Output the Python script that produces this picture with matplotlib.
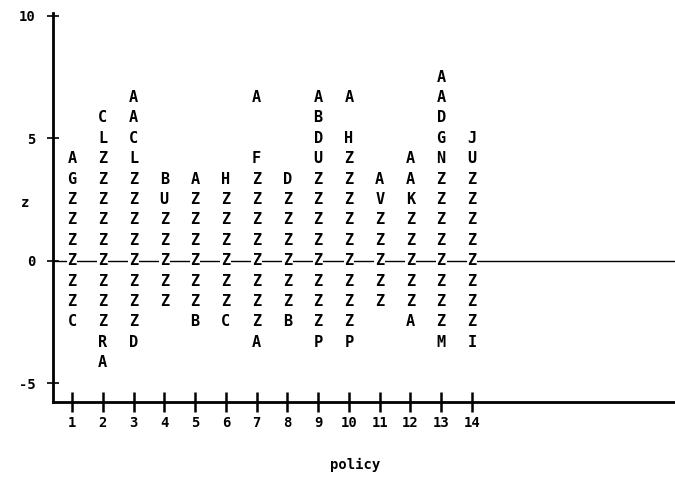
import numpy as np
import matplotlib.pyplot as plt

# policy number, highest z-row of each stack, and the stacked plot symbols
# (top to bottom, a space means an empty row)
policy = list(range(1, 15))
top_row = [5, 7, 8, 4, 4, 4, 8, 4, 8, 8, 4, 5, 9, 6]
symbols = [
    "AGZZZZZZC",
    "CLZZZZZZZZZRA",
    "AACLZZZZZZZZD",
    "BUZZZZZ",
    "AZZZZZZB",
    "HZZZZZZC",
    "A  FZZZZZZZZA",
    "DZZZZZZB",
    "ABDUZZZZZZZZP",
    "A HZZZZZZZZZP",
    "AVZZZZZ",
    "AAKZZZZZA",
    "AADGNZZZZZZZZM",
    "JUZZZZZZZZI",
]
row_step = 5 / 6  # z units per printed line

yticks = [10, 5, 0, -5]

font = {"family": "DejaVu Sans Mono", "weight": "bold"}

fig = plt.figure(figsize=(6.75, 4.79), dpi=100)
ax = fig.add_axes([53 / 675, 77 / 479, 622 / 675, 389 / 479])

ax.set_xlim(0.383, 20.6)
ax.set_ylim(-5.77, 10.12)

ax.axhline(0, color="black", lw=1, zorder=1)

for p, top, s in zip(policy, top_row, symbols):
    for i, ch in enumerate(s):
        if ch == " ":
            continue
        ax.text(p, (top - i) * row_step, ch, ha="center", va="center",
                fontsize=11, zorder=3,
                bbox=dict(facecolor="white", edgecolor="none", pad=0.6),
                **font)

for side in ["top", "right"]:
    ax.spines[side].set_visible(False)
ax.spines["left"].set_linewidth(2)
ax.spines["bottom"].set_linewidth(2)

ax.set_xticks(policy)
ax.set_xticklabels([str(p) for p in policy], **font, fontsize=10)
ax.set_yticks(yticks)
ax.set_yticklabels([str(t) for t in yticks], **font, fontsize=10)
ax.tick_params(axis="x", direction="inout", length=14, width=1.8, pad=3)
ax.tick_params(axis="y", direction="inout", length=9, width=1.2, pad=8)

ax.set_xlabel("policy", **font, fontsize=10)
ax.xaxis.set_label_coords((355 - 53) / 622, -(458 - 402) / 389)
ax.set_ylabel("z", **font, fontsize=10, rotation=0)
ax.yaxis.set_label_coords(-(53 - 25) / 622, (402 - 210) / 389)

fig.savefig("out.png", dpi=100)
